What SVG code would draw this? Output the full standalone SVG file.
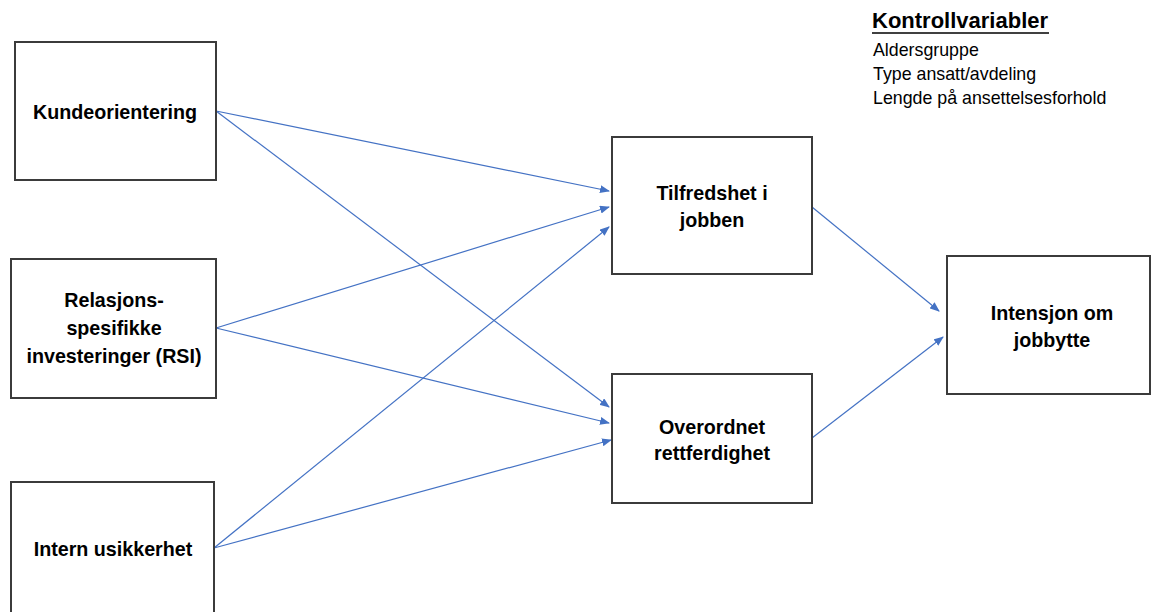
<svg xmlns="http://www.w3.org/2000/svg" width="1151" height="612" viewBox="0 0 1151 612">
<style>
.box{fill:#fff;stroke:#3b3b3b;stroke-width:2}
.t{font-family:"Liberation Sans",Arial,sans-serif;font-weight:bold;font-size:19.7px;fill:#000;text-anchor:middle}
.k{font-family:"Liberation Sans",Arial,sans-serif;font-size:17.8px;fill:#000}
.c{stroke:#4472C4;stroke-width:1.2;fill:none;marker-end:url(#ah)}
</style>
<defs>
<marker id="ah" markerWidth="10" markerHeight="8" refX="9" refY="4" orient="auto" markerUnits="userSpaceOnUse">
<path d="M0,0 L10,4 L0,8 Z" fill="#4472C4"/>
</marker>
</defs>
<rect width="1151" height="612" fill="#fff"/>
<g id="connectors">
<line class="c" x1="216" y1="111" x2="609" y2="191"/>
<line class="c" x1="216" y1="111" x2="609" y2="407"/>
<line class="c" x1="216" y1="328" x2="609" y2="207"/>
<line class="c" x1="216" y1="328" x2="609" y2="423"/>
<line class="c" x1="214" y1="548" x2="609" y2="227"/>
<line class="c" x1="214" y1="548" x2="611" y2="440"/>
<line class="c" x1="812" y1="207" x2="939" y2="311"/>
<line class="c" x1="812" y1="438" x2="943" y2="337"/>
</g>
<g id="kundeorientering">
<rect class="box" x="15" y="42" width="201" height="138"/>
<text class="t" x="115" y="119">Kundeorientering</text>
</g>
<g id="rsi">
<rect class="box" x="11" y="259" width="205" height="139"/>
<text class="t" x="114" y="307">Relasjons-</text>
<text class="t" x="114" y="335">spesifikke</text>
<text class="t" x="114" y="363">investeringer (RSI)</text>
</g>
<g id="intern">
<rect class="box" x="11" y="482" width="203" height="140"/>
<text class="t" x="113" y="556">Intern usikkerhet</text>
</g>
<g id="tilfredshet">
<rect class="box" x="612" y="137" width="200" height="137"/>
<text class="t" x="712" y="200">Tilfredshet i</text>
<text class="t" x="712" y="227">jobben</text>
</g>
<g id="overordnet">
<rect class="box" x="612" y="374" width="200" height="129"/>
<text class="t" x="712" y="434">Overordnet</text>
<text class="t" x="712" y="460">rettferdighet</text>
</g>
<g id="intensjon">
<rect class="box" x="947" y="256" width="203" height="138"/>
<text class="t" x="1052" y="320">Intensjon om</text>
<text class="t" x="1052" y="347">jobbytte</text>
</g>
<g id="kontrollvariabler">
<text x="872" y="28" font-family="Liberation Sans, Arial, sans-serif" font-weight="bold" font-size="22px" fill="#000">Kontrollvariabler</text>
<line x1="872" y1="33" x2="1049" y2="33" stroke="#000" stroke-width="1.6"/>
<text class="k" x="873" y="56">Aldersgruppe</text>
<text class="k" x="873" y="80">Type ansatt/avdeling</text>
<text class="k" x="873" y="104">Lengde på ansettelsesforhold</text>
</g>
</svg>
